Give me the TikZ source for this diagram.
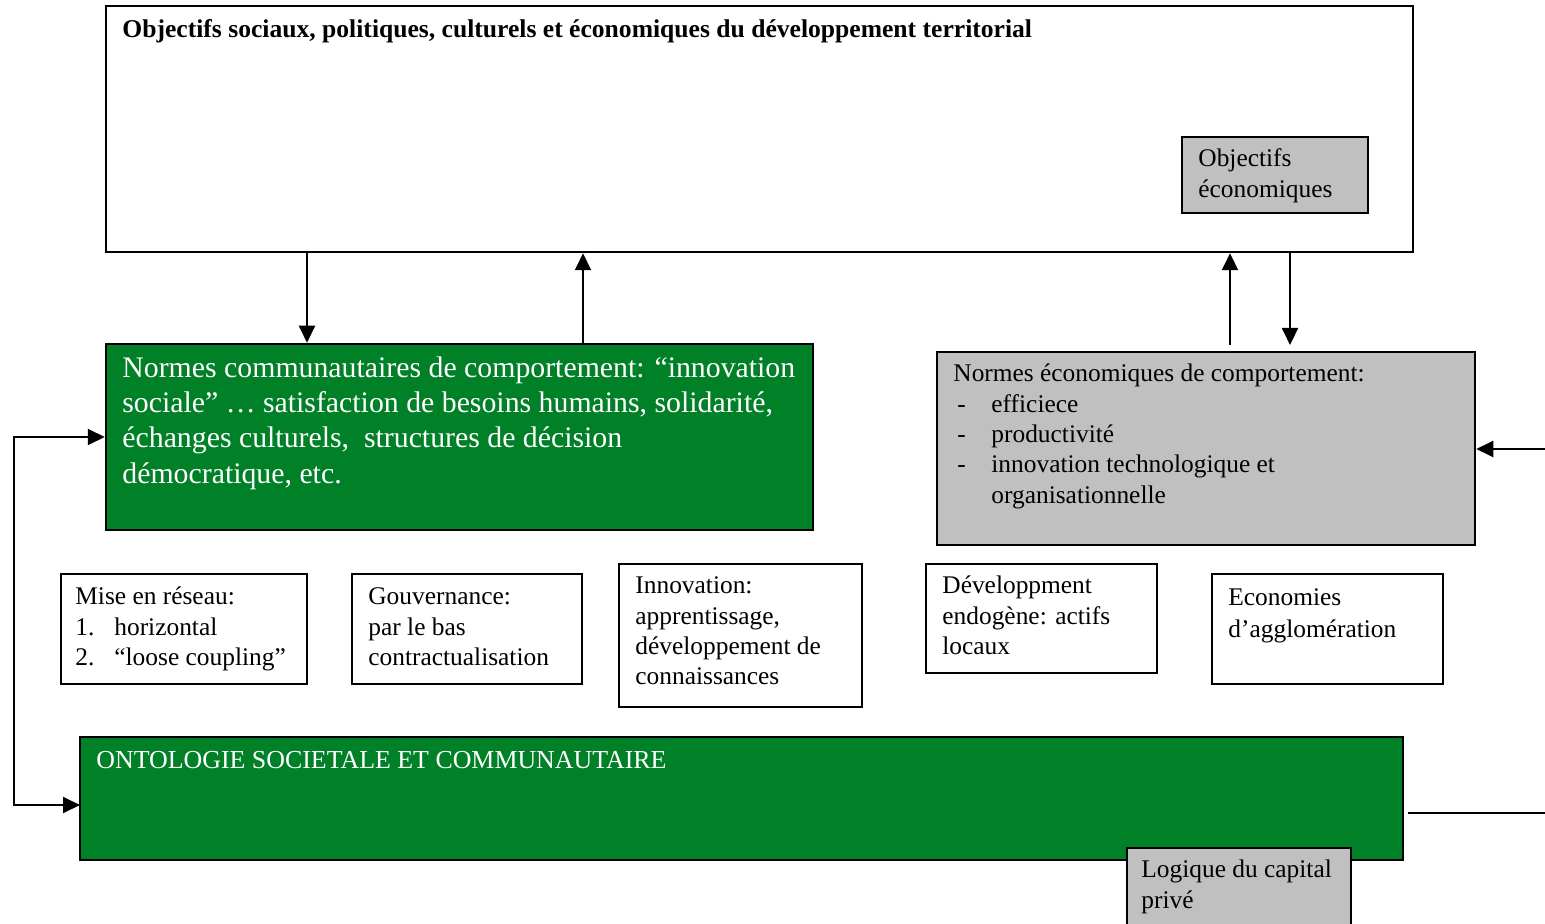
\documentclass[tikz,border=0pt]{standalone}
\usepackage{fontspec}
\setmainfont{Liberation Serif}
\usetikzlibrary{arrows.meta,fit}
\definecolor{cgreen}{RGB}{0,128,39}
\definecolor{cgray}{RGB}{192,192,192}
\tikzset{
  box/.style={draw=black, line width=1.25pt, inner sep=0pt},
  greenbox/.style={box, fill=cgreen},
  graybox/.style={box, fill=cgray},
  txt/.style={anchor=north west, inner sep=0pt, align=left, font=\fontsize{12.7}{15.2}\selectfont},
  bigtxt/.style={anchor=north west, inner sep=0pt, align=left, text=white, font=\fontsize{14.9}{17.65}\selectfont},
  arr/.style={line width=1pt, -{Triangle[length=8.5pt,width=8pt]}},
  darr/.style={line width=1pt, {Triangle[length=8.5pt,width=8pt]}-{Triangle[length=8.5pt,width=8pt]}},
  plain/.style={line width=1pt}
}
\begin{document}
\begin{tikzpicture}[x=0.5pt,y=-0.5pt]
\useasboundingbox (0,0) rectangle (1545,924);
% top box
\node[box, fit={(106,6) (1413,252)}] (top) {};
\node[txt, font=\fontsize{12.8}{15.3}\selectfont\bfseries] (toptxt) at (122,16) {\strut Objectifs sociaux, politiques, culturels et économiques du développement territorial};
\node[graybox, fit={(1182,137) (1368,213)}] (objeco) {};
\node[txt] (objecotxt) at (1198,145) {\strut Objectifs\\économiques};
% green box 1
\node[greenbox, fit={(106,344) (813,530)}] (comm) {};
\node[bigtxt] (commtxt) at (122,352) {\strut Normes communautaires de comportement: “innovation\\sociale” … satisfaction de besoins humains, solidarité,\\échanges culturels,\ \ structures de décision\\démocratique, etc.};
% gray normes economiques
\node[graybox, fit={(937,352) (1475,545)}] (neco) {};
\node[txt] (necotxt) at (953,360) {\strut Normes économiques de comportement:\\
\makebox[19pt][l]{\hspace{2pt}-}efficiece\\
\makebox[19pt][l]{\hspace{2pt}-}productivité\\
\makebox[19pt][l]{\hspace{2pt}-}innovation technologique et\\
\hspace*{19pt}organisationnelle};
% small boxes
\node[box, fit={(61,574) (307,684)}] (reseau) {};
\node[txt] (reseautxt) at (75,583) {\strut Mise en réseau:\\\makebox[19.5pt][l]{1.}horizontal\\\makebox[19.5pt][l]{2.}“loose coupling”};
\node[box, fit={(352,574) (582,684)}] (gouv) {};
\node[txt] (gouvtxt) at (368,583) {\strut Gouvernance:\\par le bas\\contractualisation};
\node[box, fit={(619,564) (862,707)}] (innov) {};
\node[txt] (innovtxt) at (635,572) {\strut Innovation:\\apprentissage,\\développement de\\connaissances};
\node[box, fit={(926,564) (1157,673)}] (endo) {};
\node[txt] (endotxt) at (942,572) {\strut Développment\\endogène: actifs\\locaux};
\node[box, fit={(1212,574) (1443,684)}] (aggl) {};
\node[txt, font=\fontsize{12.7}{16}\selectfont] (aggltxt) at (1228,583) {\strut Economies\\d’agglomération};
% ontology
\node[greenbox, fit={(80,737) (1403,860)}] (onto) {};
\node[txt, text=white, font=\fontsize{12.95}{15.3}\selectfont] (ontotxt) at (96,747) {\strut ONTOLOGIE SOCIETALE ET COMMUNAUTAIRE};
\node[graybox, fit={(1127,848) (1351,950)}] (logique) {};
\node[txt] (logiquetxt) at (1141,856) {\strut Logique du capital\\privé};
% coordinates
\coordinate (a1) at (307,0);
\coordinate (a2) at (583,0);
\coordinate (a3s) at (1230,345);
\coordinate (a4e) at (1290,345);
\coordinate (rin) at (1545,449);
\coordinate (rout) at (1545,813);
\coordinate (lx) at (14,0);
\coordinate (ontoin) at (80,805);
% connectors
\draw[arr] (top.south -| a1) -- (comm.north -| a1);
\draw[arr] (comm.north -| a2) -- (top.south -| a2);
\draw[arr] (a3s) -- (top.south -| a3s);
\draw[arr] (top.south -| a4e) -- (a4e);
\draw[arr] (rin) -- (neco.east |- rin);
\draw[plain] ([xshift=2pt]onto.east |- rout) -- (rout);
\draw[darr] (comm.west) -- (comm.west -| lx) -- (ontoin -| lx) -- (ontoin);
\end{tikzpicture}
\end{document}
